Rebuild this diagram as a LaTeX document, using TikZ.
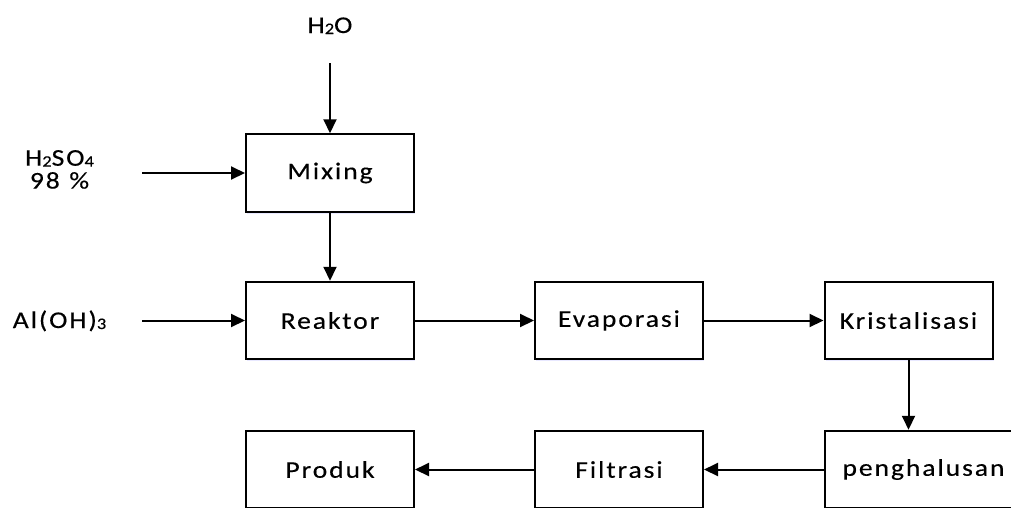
\documentclass[tikz,border=0pt]{standalone}
\usepackage{fontspec}
\setmainfont{Carlito}[LetterSpace=8, FakeStretch=1.15, FakeBold=0.3]
\usetikzlibrary{arrows.meta,shadows}
\newcommand{\subd}[1]{\raisebox{-1pt}{\fontsize{16}{16}\selectfont #1}}
\begin{document}
\begin{tikzpicture}[x=1pt,y=1pt,
  box/.style={draw=black, line width=2pt, fill=white, minimum width=168pt,
    minimum height=77.5pt, inner sep=0pt, font=\fontsize{24}{28}\selectfont,
    drop shadow={shadow xshift=1pt, shadow yshift=-2pt, fill=blue!25!white, opacity=0.35}},
  flow/.style={line width=2pt, -{Triangle[length=14pt,width=13pt]}},
  lbl/.style={font=\fontsize{24}{28}\selectfont, inner sep=0pt}]
\useasboundingbox (0,0) rectangle (1011,-507);
\clip (0,0) rectangle (1011,-507);
\fill[white] (0,0) rectangle (1011,-507);

% process boxes
\node[box] (mix)  at (330,-173)   {Mixing};
\node[box] (reak) at (330,-320.5) {Reaktor};
\node[box] (evap) at (619,-320.5) {Evaporasi};
\node[box] (kris) at (908.5,-320.5) {Kristalisasi};
\node[box, minimum width=197pt, anchor=west] (halus) at (824,-469.5) {penghalusan};
\node[box] (filt) at (619,-469.5) {Filtrasi};
\node[box] (prod) at (330,-469.5) {Produk};

% input labels
\node[lbl, anchor=base] (h2o) at (330,-33) {H\subd{2}O};
\node[lbl, anchor=base, font=\fontsize{24}{21.5}\selectfont] (h2so4) at (59.5,-165.7)
  {\begin{tabular}[t]{@{}c@{}}H\subd{2}SO\subd{4}\\98\hspace{0.4em}\%\end{tabular}};
\node[lbl, anchor=base] (aloh) at (59.5,-328) {Al(OH)\subd{3}};

\coordinate (h2oin) at (330,-63);
\coordinate (h2so4in) at (142,-173);
\coordinate (alohin) at (142,-320.5);

% connectors
\draw[flow] (h2oin) -- (mix.north);
\draw[flow] (h2so4in) -- (mix.west);
\draw[flow] (mix.south) -- (reak.north);
\draw[flow] (alohin) -- (reak.west);
\draw[flow] (reak.east) -- (evap.west);
\draw[flow] (evap.east) -- (kris.west);
\draw[flow] (kris.south) -- (kris.south |- halus.north);
\draw[flow] (halus.west) -- (filt.east);
\draw[flow] (filt.west) -- (prod.east);
\end{tikzpicture}
\end{document}
